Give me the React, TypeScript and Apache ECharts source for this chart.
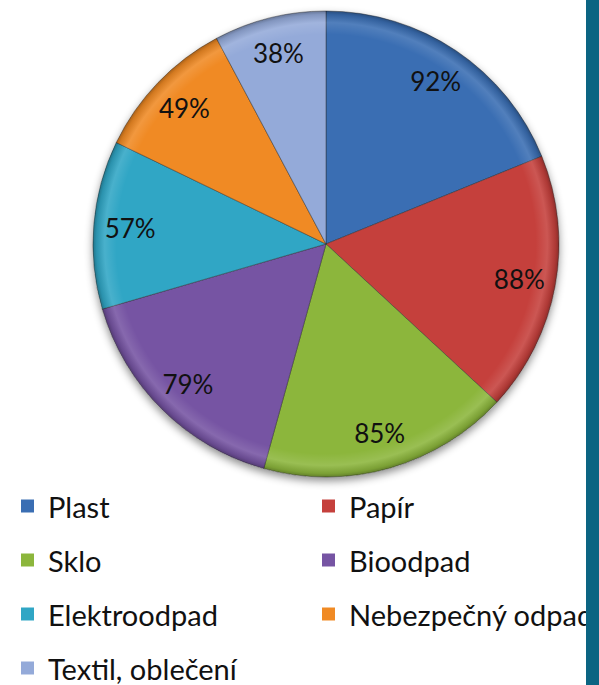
import React, { useEffect, useRef } from "react";
import * as echarts from "echarts";

const categories = ["Plast", "Papír", "Sklo", "Bioodpad", "Elektroodpad", "Nebezpečný odpad", "Textil, oblečení"];
const values = [92, 88, 85, 79, 57, 49, 38];
const colors = ["#3a6eb3", "#c5403c", "#8cb63c", "#7654a3", "#30a6c5", "#f08a24", "#94aad9"];
const leftColumn = ["Plast", "Sklo", "Elektroodpad", "Textil, oblečení"];
const rightColumn = ["Papír", "Bioodpad", "Nebezpečný odpad"];

const CENTER = [326, 244];
const R = 233;

export default function App() {
  const ref = useRef<HTMLDivElement>(null);
  useEffect(() => {
    if (!ref.current) return;
    const chart = echarts.init(ref.current, null, { renderer: "svg" });
    const data = categories.map((name, i) => ({
      name,
      value: values[i],
      itemStyle: { color: colors[i] },
    }));
    const legendItems = (names: string[]) =>
      names.map((n) => ({ name: n, itemStyle: { color: colors[categories.indexOf(n)], borderWidth: 0 } }));
    const legendBase = {
      orient: "vertical" as const,
      icon: "rect",
      itemWidth: 13,
      itemHeight: 13,
      itemGap: 24,
      padding: 0,
      height: 192,
      selectedMode: false,
      textStyle: {
        fontFamily: "Lato",
        fontSize: 29,
        lineHeight: 30,
        color: "#111",
        padding: [0, 0, 0, 9],
      },
    };
    chart.setOption({
      animation: false,
      backgroundColor: "#ffffff",
      legend: [
        { ...legendBase, left: 21, top: 491, data: legendItems(leftColumn) },
        { ...legendBase, left: 322, top: 491, data: legendItems(rightColumn) },
      ],
      graphic: [
        {
          type: "rect",
          right: 0,
          top: 0,
          z: 100,
          shape: { width: 13, height: 685 },
          style: { fill: "#0b6482" },
        },
      ],
      series: [
        {
          type: "pie",
          silent: true,
          center: CENTER,
          radius: [0, R],
          label: { show: false },
          labelLine: { show: false },
          data: [
            {
              name: "",
              value: 1,
              itemStyle: {
                color: "#ffffff",
                shadowBlur: 8,
                shadowOffsetY: 4,
                shadowColor: "rgba(0,0,0,0.45)",
              },
            },
          ],
        },
        {
          type: "pie",
          center: CENTER,
          radius: [0, R],
          startAngle: 90,
          clockwise: true,
          label: { show: false },
          labelLine: { show: false },
          itemStyle: { borderColor: "rgba(40,40,40,0.45)", borderWidth: 1 },
          data,
        },
        {
          type: "pie",
          silent: true,
          center: CENTER,
          radius: [0, R],
          label: { show: false },
          labelLine: { show: false },
          data: [
            {
              name: "",
              value: 1,
              itemStyle: {
                color: {
                  type: "radial",
                  x: 0.5,
                  y: 0.5,
                  r: 0.5,
                  colorStops: [
                    { offset: 0, color: "rgba(255,255,255,0)" },
                    { offset: 0.9, color: "rgba(255,255,255,0)" },
                    { offset: 0.95, color: "rgba(255,255,255,0.12)" },
                    { offset: 0.985, color: "rgba(0,0,0,0.12)" },
                    { offset: 1, color: "rgba(0,0,0,0.3)" },
                  ],
                },
              },
            },
          ],
        },
        {
          type: "pie",
          silent: true,
          legendHoverLink: false,
          center: CENTER,
          radius: [154, R],
          startAngle: 90,
          clockwise: true,
          itemStyle: { color: "rgba(0,0,0,0)" },
          label: {
            show: true,
            position: "inside",
            formatter: "{c}%",
            fontFamily: "Lato",
            fontSize: 26,
            color: "#111",
          },
          labelLine: { show: false },
          data: categories.map((name, i) => ({
            name,
            value: values[i],
            itemStyle: { color: "rgba(0,0,0,0)" },
          })),
        },
      ],
    });
    return () => chart.dispose();
  }, []);
  return (
    <div
      ref={ref}
      style={{ position: "absolute", left: 0, top: 0, width: 599, height: 685 }}
    />
  );
}
